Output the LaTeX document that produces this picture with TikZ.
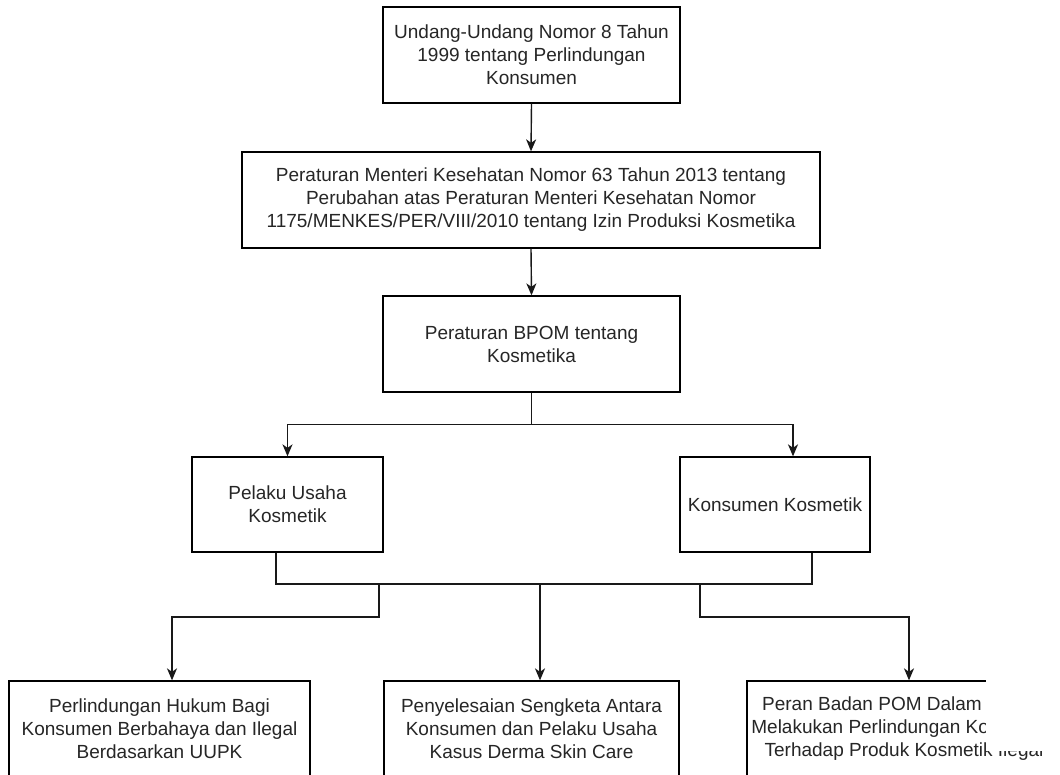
\documentclass[tikz,border=0pt]{standalone}
\usepackage{fontspec}
\setmainfont{Liberation Sans}
\usetikzlibrary{arrows.meta}
\tikzset{
  box/.style={draw=black, line width=1.3pt, fill=white, inner sep=0pt, align=center,
    font=\fontsize{19}{23}\selectfont, text=black!85},
  link/.style={draw=black!90, line width=1.4pt, -{Stealth[length=12pt,width=10pt,inset=3.5pt]}},
  wire/.style={draw=black!90, line width=1.4pt},
}
\begin{document}
\begin{tikzpicture}[x=1pt,y=-1pt]
\useasboundingbox (0,0) rectangle (1060,774);
\clip (0,0) rectangle (1060,774);
% regulations
\node[box, minimum width=297pt, minimum height=96pt] (uupk) at (531.5,55) {Undang-Undang Nomor 8 Tahun\\1999 tentang Perlindungan\\Konsumen};
\node[box, minimum width=578pt, minimum height=96pt] (permenkes) at (531,200) {Peraturan Menteri Kesehatan Nomor 63 Tahun 2013 tentang\\Perubahan atas Peraturan Menteri Kesehatan Nomor\\1175/MENKES/PER/VIII/2010 tentang Izin Produksi Kosmetika};
\node[box, minimum width=297pt, minimum height=96pt] (bpom) at (531.5,344) {Peraturan BPOM tentang\\Kosmetika};
% parties
\node[box, minimum width=191pt, minimum height=95pt] (pelaku) at (287.5,504.5) {Pelaku Usaha\\Kosmetik};
\node[box, minimum width=190pt, minimum height=95pt] (konsumen) at (775,504.5) {Konsumen Kosmetik};
% topics
\node[box, minimum width=301pt, minimum height=96pt] (hukum) at (159.5,729) {Perlindungan Hukum Bagi\\Konsumen Berbahaya dan Ilegal\\Berdasarkan UUPK};
\node[box, minimum width=295pt, minimum height=96pt] (sengketa) at (531.5,729) {Penyelesaian Sengketa Antara\\Konsumen dan Pelaku Usaha\\Kasus Derma Skin Care};
\node[box, minimum width=314pt, minimum height=96pt] (peran) at (904,729) {Peran Badan POM Dalam\hspace*{64pt}\\Melakukan Perlindungan Konsumen\\Terhadap Produk Kosmetik Ilegal};
% connectors
\draw[link] (uupk.south) -- (permenkes.north);
\draw[link] (permenkes.south) -- (bpom.north);
\draw[link] (bpom.south) -- ++(0,32) -| (pelaku.north);
\draw[link] (bpom.south) -- ++(0,32) -| ([xshift=18pt]konsumen.north);
\coordinate (bus) at (540,584);
\coordinate (dropL) at (379,584);
\coordinate (dropR) at (700,584);
\draw[wire] ([xshift=-11.5pt]pelaku.south) |- ([xshift=37pt]konsumen.south |- bus) -- ([xshift=37pt]konsumen.south);
\draw[link] (dropL) -- ++(0,33) -| ([xshift=12.5pt]hukum.north);
\draw[link] (bus) -- (bus |- sengketa.north);
\draw[link] (dropR) -- ++(0,33) -| ([xshift=5pt]peran.north);
% cut-off edge of the page
\fill[white] (986,0) rectangle (1060,751);
\end{tikzpicture}
\end{document}
